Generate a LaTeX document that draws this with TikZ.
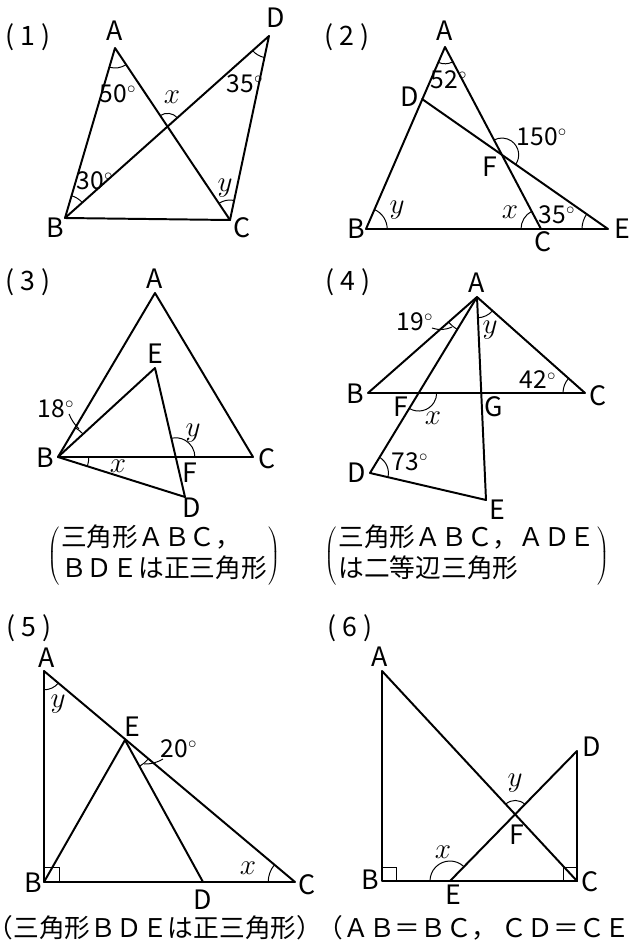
\documentclass[tikz,border=0pt]{standalone}
\usepackage{fontspec}
\setmainfont{Noto Sans CJK JP}
\usetikzlibrary{angles}

\tikzset{
	edge/.style={line width=1.4pt, line join=round, line cap=round},
	arcmark/.style={draw, line width=0.7pt},
	vlabel/.style={font=\fontsize{19}{19}\selectfont, inner sep=0pt},
	deg/.style={font=\fontsize{17.5}{17.5}\selectfont, inner sep=0pt},
	var/.style={font=\fontsize{22}{22}\selectfont, inner sep=0pt},
	capt/.style={font=\fontsize{18.3}{22}\selectfont, inner sep=0pt},
}

\begin{document}
\begin{tikzpicture}[x=0.25mm, y=-0.25mm]
	\useasboundingbox (0,0) rectangle (630,945);

	% (1)
	\node[vlabel] (num1) at (28,37) {( 1 )};
	\coordinate (A1) at (115,48);
	\coordinate (B1) at (65,218);
	\coordinate (C1) at (230,220);
	\coordinate (D1) at (269,36);
	\coordinate (X1) at (intersection of A1--C1 and B1--D1);
	\draw[edge] (A1) -- (B1) -- (C1) -- cycle;
	\draw[edge] (B1) -- (D1) -- (C1);
	\pic[arcmark, angle radius=5mm] {angle=B1--A1--C1};
	\pic[arcmark, angle radius=5.5mm] {angle=B1--D1--C1};
	\pic[arcmark, angle radius=5.8mm] {angle=D1--B1--A1};
	\pic[arcmark, angle radius=5mm] {angle=D1--C1--A1};
	\pic[arcmark, angle radius=3.3mm] {angle=D1--X1--A1};
	\node[vlabel] (lA1) at (115,31) {A};
	\node[vlabel] (lB1) at (55,228) {B};
	\node[vlabel] (lC1) at (242,228) {C};
	\node[vlabel] (lD1) at (276,18) {D};
	\node[deg] (a50) at (118,94) {50$^{\circ}$};
	\node[deg] (a35) at (245,84) {35$^{\circ}$};
	\node[deg] (a30) at (95,181) {30$^{\circ}$};
	\node[var] (x1) at (172,97) {$x$};
	\node[var] (y1) at (225,188) {$y$};

	% (2)
	\node[vlabel] (num2) at (347,37) {( 2 )};
	\coordinate (A2) at (445,47);
	\coordinate (B2) at (366,229);
	\coordinate (C2) at (541,229);
	\coordinate (E2) at (608,229);
	\coordinate (D2) at (422,99);
	\coordinate (F2) at (intersection of A2--C2 and D2--E2);
	\draw[edge] (A2) -- (B2) -- (E2) -- (D2);
	\draw[edge] (A2) -- (C2);
	\pic[arcmark, angle radius=4.2mm] {angle=B2--A2--C2};
	\pic[arcmark, angle radius=4.2mm] {angle=E2--F2--A2};
	\pic[arcmark, angle radius=5.3mm] {angle=C2--B2--A2};
	\pic[arcmark, angle radius=5mm] {angle=A2--C2--B2};
	\pic[arcmark, angle radius=6.5mm] {angle=D2--E2--B2};
	\node[vlabel] (lA2) at (445,31) {A};
	\node[vlabel] (lB2) at (356,229) {B};
	\node[vlabel] (lC2) at (543,242) {C};
	\node[vlabel] (lD2) at (410,97) {D};
	\node[vlabel] (lE2) at (622,229) {E};
	\node[vlabel] (lF2) at (490,167) {F};
	\node[deg] (a52) at (449,80) {52$^{\circ}$};
	\node[deg] (a150) at (542,137) {150$^{\circ}$};
	\node[deg] (a35b) at (557,215) {35$^{\circ}$};
	\node[var] (x2) at (510,212) {$x$};
	\node[var] (y2) at (397,210) {$y$};

	% (3)
	\node[vlabel] (num3) at (28,282) {( 3 )};
	\coordinate (A3) at (155,293);
	\coordinate (B3) at (58,457);
	\coordinate (C3) at (253,457);
	\coordinate (E3) at (155,368);
	\coordinate (D3) at (185,497);
	\coordinate (F3) at (intersection of B3--C3 and E3--D3);
	\draw[edge] (A3) -- (B3) -- (C3) -- cycle;
	\draw[edge] (B3) -- (E3) -- (D3) -- cycle;
	\pic[arcmark, angle radius=8.5mm] {angle=E3--B3--A3};
	\pic[arcmark, angle radius=7.7mm] {angle=D3--B3--C3};
	\pic[arcmark, angle radius=4.8mm] {angle=C3--F3--E3};
	\draw[line width=0.7pt] (69,414) to[bend right=10] (79,429);
	\node[vlabel] (lA3) at (155,279) {A};
	\node[vlabel] (lB3) at (45,458) {B};
	\node[vlabel] (lC3) at (267,459) {C};
	\node[vlabel] (lD3) at (192,508) {D};
	\node[vlabel] (lE3) at (155,354) {E};
	\node[vlabel] (lF3) at (190,473) {F};
	\node[deg] (a18) at (56,409) {18$^{\circ}$};
	\node[var] (x3) at (118,466) {$x$};
	\node[var] (y3) at (193,433) {$y$};
	\node[capt] (cap3) at (164,556) {$\left(\kern1pt\mbox{\begin{tabular}{@{}l@{}}三角形ＡＢＣ，\\ＢＤＥは正三角形\end{tabular}}\kern1pt\right)$};

	% (4)
	\node[vlabel] (num4) at (348,282) {( 4 )};
	\coordinate (A4) at (477,297);
	\coordinate (B4) at (368,393);
	\coordinate (C4) at (585,393);
	\coordinate (D4) at (370,473);
	\coordinate (E4) at (486,500);
	\coordinate (F4) at (intersection of A4--D4 and B4--C4);
	\coordinate (G4) at (intersection of A4--E4 and B4--C4);
	\draw[edge] (A4) -- (B4) -- (C4) -- cycle;
	\draw[edge] (A4) -- (D4) -- (E4) -- cycle;
	\pic[arcmark, angle radius=9.5mm] {angle=B4--A4--D4};
	\pic[arcmark, angle radius=5.2mm] {angle=E4--A4--C4};
	\pic[arcmark, angle radius=5.5mm] {angle=A4--C4--B4};
	\pic[arcmark, angle radius=4.5mm] {angle=D4--F4--C4};
	\pic[arcmark, angle radius=4.6mm] {angle=E4--D4--A4};
	\draw[line width=0.7pt] (432,328) to[bend right=20] (452,327);
	\node[vlabel] (lA4) at (477,283) {A};
	\node[vlabel] (lB4) at (355,394) {B};
	\node[vlabel] (lC4) at (598,396) {C};
	\node[vlabel] (lD4) at (357,473) {D};
	\node[vlabel] (lE4) at (497,510) {E};
	\node[vlabel] (lF4) at (401,407) {F};
	\node[vlabel] (lG4) at (494,407) {G};
	\node[deg] (a19) at (415,322) {19$^{\circ}$};
	\node[deg] (a42) at (538,380) {42$^{\circ}$};
	\node[deg] (a73) at (410,462) {73$^{\circ}$};
	\node[var] (x4) at (433,418) {$x$};
	\node[var] (y4) at (490,330) {$y$};
	\node[capt] (cap4) at (467,556) {$\left(\kern1pt\mbox{\begin{tabular}{@{}l@{}}三角形ＡＢＣ，ＡＤＥ\\は二等辺三角形\end{tabular}}\kern1pt\right)$};

	% (5)
	\node[vlabel] (num5) at (29,628) {( 5 )};
	\coordinate (A5) at (44,671);
	\coordinate (B5) at (44,882);
	\coordinate (C5) at (295,882);
	\coordinate (D5) at (203,882);
	\coordinate (E5) at (125,740);
	\draw[edge] (A5) -- (B5) -- (C5) -- cycle;
	\draw[edge] (B5) -- (E5) -- (D5);
	\draw[line width=0.7pt] (B5) ++(0,-15) -- ++(15,0) -- ++(0,15);
	\pic[arcmark, angle radius=4.7mm] {angle=B5--A5--C5};
	\pic[arcmark, angle radius=7.5mm] {angle=D5--E5--C5};
	\pic[arcmark, angle radius=6.7mm] {angle=A5--C5--B5};
	\draw[line width=0.7pt] (144,764) to[bend right=15] (163,759);
	\node[vlabel] (lA5) at (47,658) {A};
	\node[vlabel] (lB5) at (33,883) {B};
	\node[vlabel] (lC5) at (307,885) {C};
	\node[vlabel] (lD5) at (203,900) {D};
	\node[vlabel] (lE5) at (132,727) {E};
	\node[deg] (a20) at (179,749) {20$^{\circ}$};
	\node[var] (x5) at (248,868) {$x$};
	\node[var] (y5) at (58,704) {$y$};
	\node[capt] (cap5) at (155,928) {（三角形ＢＤＥは正三角形）};

	% (6)
	\node[vlabel] (num6) at (350,628) {( 6 )};
	\coordinate (A6) at (382,671);
	\coordinate (B6) at (382,881);
	\coordinate (C6) at (577,881);
	\coordinate (D6) at (577,751);
	\coordinate (E6) at (450,881);
	\coordinate (F6) at (intersection of A6--C6 and E6--D6);
	\draw[edge] (A6) -- (B6) -- (C6) -- cycle;
	\draw[edge] (E6) -- (D6) -- (C6);
	\draw[line width=0.7pt] (B6) ++(0,-14) -- ++(14,0) -- ++(0,14);
	\draw[line width=0.7pt] (C6) ++(-14,0) -- ++(0,-14) -- ++(14,0);
	\pic[arcmark, angle radius=5mm] {angle=D6--E6--B6};
	\pic[arcmark, angle radius=3.5mm] {angle=D6--F6--A6};
	\node[vlabel] (lA6) at (380,657) {A};
	\node[vlabel] (lB6) at (370,880) {B};
	\node[vlabel] (lC6) at (590,882) {C};
	\node[vlabel] (lD6) at (592,747) {D};
	\node[vlabel] (lE6) at (453,895) {E};
	\node[vlabel] (lF6) at (517,835) {F};
	\node[var] (x6) at (443,852) {$x$};
	\node[var] (y6) at (515,783) {$y$};
	\node[capt] (cap6) at (487,928) {（ＡＢ＝ＢＣ，\,ＣＤ＝ＣＥ）};
\end{tikzpicture}
\end{document}
